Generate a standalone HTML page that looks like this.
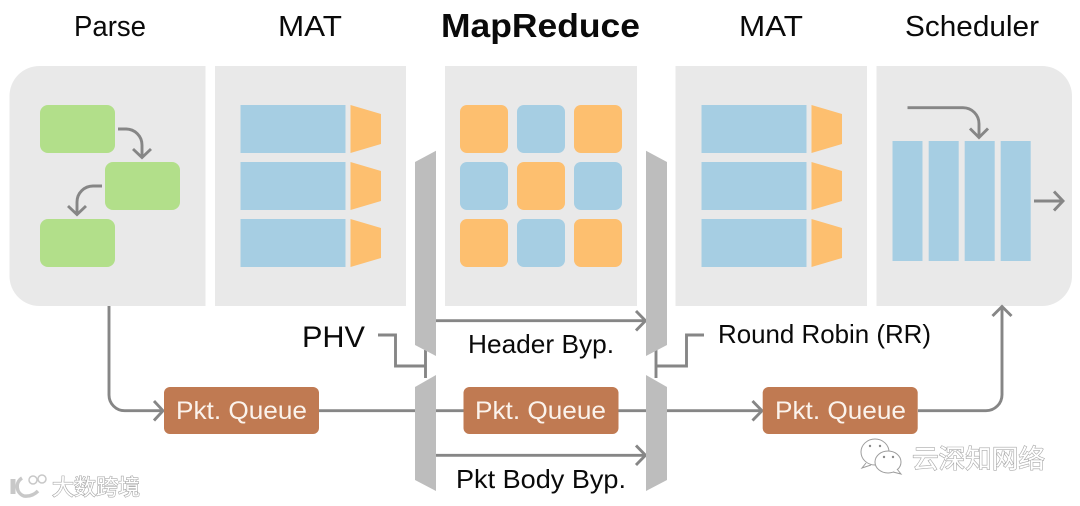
<!DOCTYPE html>
<html>
<head>
<meta charset="utf-8">
<style>
html,body{margin:0;padding:0;background:#fff;width:1080px;height:506px;overflow:hidden}
svg{display:block;filter:blur(.35px)}
text{font-family:"Liberation Sans","Noto Sans CJK SC",sans-serif}
.ln{fill:none;stroke:#868686;stroke-width:2.9}
.t{fill:#0a0a0a}
.q{fill:#fbf3ec;font-size:25px}
.wm{fill:#fff;stroke:#a8a8a8;stroke-width:1.2;paint-order:stroke}
</style>
</head>
<body>
<svg width="1080" height="506" viewBox="0 0 1080 506" xmlns="http://www.w3.org/2000/svg">
<!-- panels -->
<path d="M205.500 66V306H39.500A30 30 0 0 1 9.500 276V96A30 30 0 0 1 39.500 66Z" fill="#e9e9e9"/>
<rect x="215" y="66" width="191" height="240" fill="#e9e9e9"/>
<rect x="445" y="66" width="192" height="240" fill="#e9e9e9"/>
<rect x="675.500" y="66" width="191.500" height="240" fill="#e9e9e9"/>
<path d="M876.500 66V306H1042A30 30 0 0 0 1072 276V96A30 30 0 0 0 1042 66Z" fill="#e9e9e9"/>

<!-- titles -->
<text class="t" x="74" y="36" font-size="29" textLength="72" lengthAdjust="spacingAndGlyphs">Parse</text>
<text class="t" x="278" y="36" font-size="29" textLength="64" lengthAdjust="spacingAndGlyphs">MAT</text>
<text class="t" x="441" y="37" font-size="33" font-weight="700" textLength="199" lengthAdjust="spacingAndGlyphs">MapReduce</text>
<text class="t" x="739" y="36" font-size="29" textLength="64" lengthAdjust="spacingAndGlyphs">MAT</text>
<text class="t" x="905" y="36" font-size="29" textLength="134" lengthAdjust="spacingAndGlyphs">Scheduler</text>

<!-- parse blocks -->
<g fill="#b2df8a">
<rect x="40" y="105" width="75" height="48" rx="8"/>
<rect x="105" y="162" width="75" height="48" rx="8"/>
<rect x="40" y="219" width="75" height="48" rx="8"/>
</g>
<path class="ln" d="M118 129H126A16 16 0 0 1 142 145V157"/>
<path class="ln" d="M133 149L142 157.500L151 149"/>
<path class="ln" d="M102 186H93A16 16 0 0 0 77 202V214"/>
<path class="ln" d="M68 206L77 214.500L86 206"/>

<!-- MAT 1 -->
<g fill="#a6cee3">
<rect x="240.500" y="105" width="105" height="48"/>
<rect x="240.500" y="162" width="105" height="48"/>
<rect x="240.500" y="219" width="105" height="48"/>
</g>
<g fill="#fdbf6f">
<path d="M350.500 105L381 114V144L350.500 153Z"/>
<path d="M350.500 162L381 171V201L350.500 210Z"/>
<path d="M350.500 219L381 228V258L350.500 267Z"/>
</g>

<!-- MapReduce grid -->
<g fill="#fdbf6f">
<rect x="460" y="105" width="48" height="48" rx="7"/>
<rect x="574" y="105" width="48" height="48" rx="7"/>
<rect x="517" y="162" width="48" height="48" rx="7"/>
<rect x="460" y="219" width="48" height="48" rx="7"/>
<rect x="574" y="219" width="48" height="48" rx="7"/>
</g>
<g fill="#a6cee3">
<rect x="517" y="105" width="48" height="48" rx="7"/>
<rect x="460" y="162" width="48" height="48" rx="7"/>
<rect x="574" y="162" width="48" height="48" rx="7"/>
<rect x="517" y="219" width="48" height="48" rx="7"/>
</g>

<!-- MAT 2 -->
<g fill="#a6cee3">
<rect x="701.500" y="105" width="105" height="48"/>
<rect x="701.500" y="162" width="105" height="48"/>
<rect x="701.500" y="219" width="105" height="48"/>
</g>
<g fill="#fdbf6f">
<path d="M811.500 105L842 114V144L811.500 153Z"/>
<path d="M811.500 162L842 171V201L811.500 210Z"/>
<path d="M811.500 219L842 228V258L811.500 267Z"/>
</g>

<!-- Scheduler -->
<g fill="#a6cee3">
<rect x="892.500" y="141" width="30" height="120"/>
<rect x="928.700" y="141" width="30" height="120"/>
<rect x="964.700" y="141" width="30" height="120"/>
<rect x="1000.700" y="141" width="30" height="120"/>
</g>
<path class="ln" d="M907.500 107.700H963A16 16 0 0 1 979 123.700V137"/>
<path class="ln" d="M970 128.500L979 137.500L988 128.500"/>
<path class="ln" d="M1034 201H1062"/>
<path class="ln" d="M1054 191.500L1063 201L1054 210.500"/>

<!-- connectors -->
<path class="ln" d="M109 306V395A15.700 15.700 0 0 0 124.700 410.700H163"/>
<path class="ln" d="M154 401L163 410.700L154 420.500"/>
<path class="ln" d="M319 410.700H415"/>
<path class="ln" d="M436 410.700H464"/>
<path class="ln" d="M618 410.700H646"/>
<path class="ln" d="M667 410.700H761"/>
<path class="ln" d="M752.500 401L762 410.700L752.500 420.500"/>
<path class="ln" d="M918 410.700H986A16 16 0 0 0 1002 394.700V307"/>
<path class="ln" d="M992.500 316L1002 306.500L1011.500 316"/>
<path class="ln" d="M378 335H395.500V366H425.500"/>
<path class="ln" d="M425.500 350V378"/>
<path class="ln" d="M656 350V378"/>
<path class="ln" d="M656 366H686.500V335H704"/>
<path class="ln" d="M436 320.700H645"/>
<path class="ln" d="M636 311L645.500 320.700L636 330.500"/>
<path class="ln" d="M436 455.300H645"/>
<path class="ln" d="M636 445.500L645.500 455.300L636 465"/>

<!-- muxes -->
<g fill="#bdbdbd">
<path d="M415 162L436 150.700V356L415 345Z"/>
<path d="M415 387L436 375V491L415 480Z"/>
<path d="M646 150.700L667 162V345L646 356Z"/>
<path d="M646 375L667 387V480L646 491Z"/>
</g>

<!-- queues -->
<g fill="#c07a52">
<rect x="164" y="387" width="155" height="47" rx="6"/>
<rect x="463.500" y="387" width="155" height="47" rx="6"/>
<rect x="762.700" y="387" width="155" height="47" rx="6"/>
</g>
<text class="q" x="176" y="419" textLength="131" lengthAdjust="spacingAndGlyphs">Pkt. Queue</text>
<text class="q" x="475" y="419" textLength="131" lengthAdjust="spacingAndGlyphs">Pkt. Queue</text>
<text class="q" x="775" y="419" textLength="131" lengthAdjust="spacingAndGlyphs">Pkt. Queue</text>

<!-- labels -->
<text class="t" x="302" y="347" font-size="30" textLength="63" lengthAdjust="spacingAndGlyphs">PHV</text>
<text class="t" x="468" y="353" font-size="26" textLength="146" lengthAdjust="spacingAndGlyphs">Header Byp.</text>
<text class="t" x="456" y="488" font-size="26" textLength="170" lengthAdjust="spacingAndGlyphs">Pkt Body Byp.</text>
<text class="t" x="718" y="343" font-size="26" textLength="213" lengthAdjust="spacingAndGlyphs">Round Robin (RR)</text>

<!-- watermark left -->
<g fill="none" stroke="#c8c8c8">
<path d="M13 479V494" stroke-width="5"/>
<path d="M22 478A10 10 0 0 0 24 496Q32 497 38 491" stroke-width="3.500"/>
<circle cx="33" cy="480" r="4" stroke-width="1.500"/>
<circle cx="42" cy="479" r="4" stroke-width="1.500"/>
</g>
<text class="wm" x="52" y="495" font-size="22" textLength="88" lengthAdjust="spacingAndGlyphs">大数跨境</text>

<!-- watermark right -->
<g fill="#fff" stroke="#9c9c9c" stroke-width="1">
<ellipse cx="875" cy="452" rx="14" ry="13"/>
<ellipse cx="888" cy="462" rx="13" ry="11"/>
<path d="M893 472L901 474L897 469"/>
<path d="M866 463L862 468L871 465"/>
</g>
<g fill="#8a8a8a">
<circle cx="870" cy="446" r="1.200"/><circle cx="880" cy="446" r="1.200"/>
<circle cx="884" cy="457" r="1.200"/><circle cx="893" cy="457" r="1.200"/>
</g>
<text class="wm" x="912" y="468" font-size="26" textLength="133" lengthAdjust="spacingAndGlyphs">云深知网络</text>
</svg>
</body>
</html>
